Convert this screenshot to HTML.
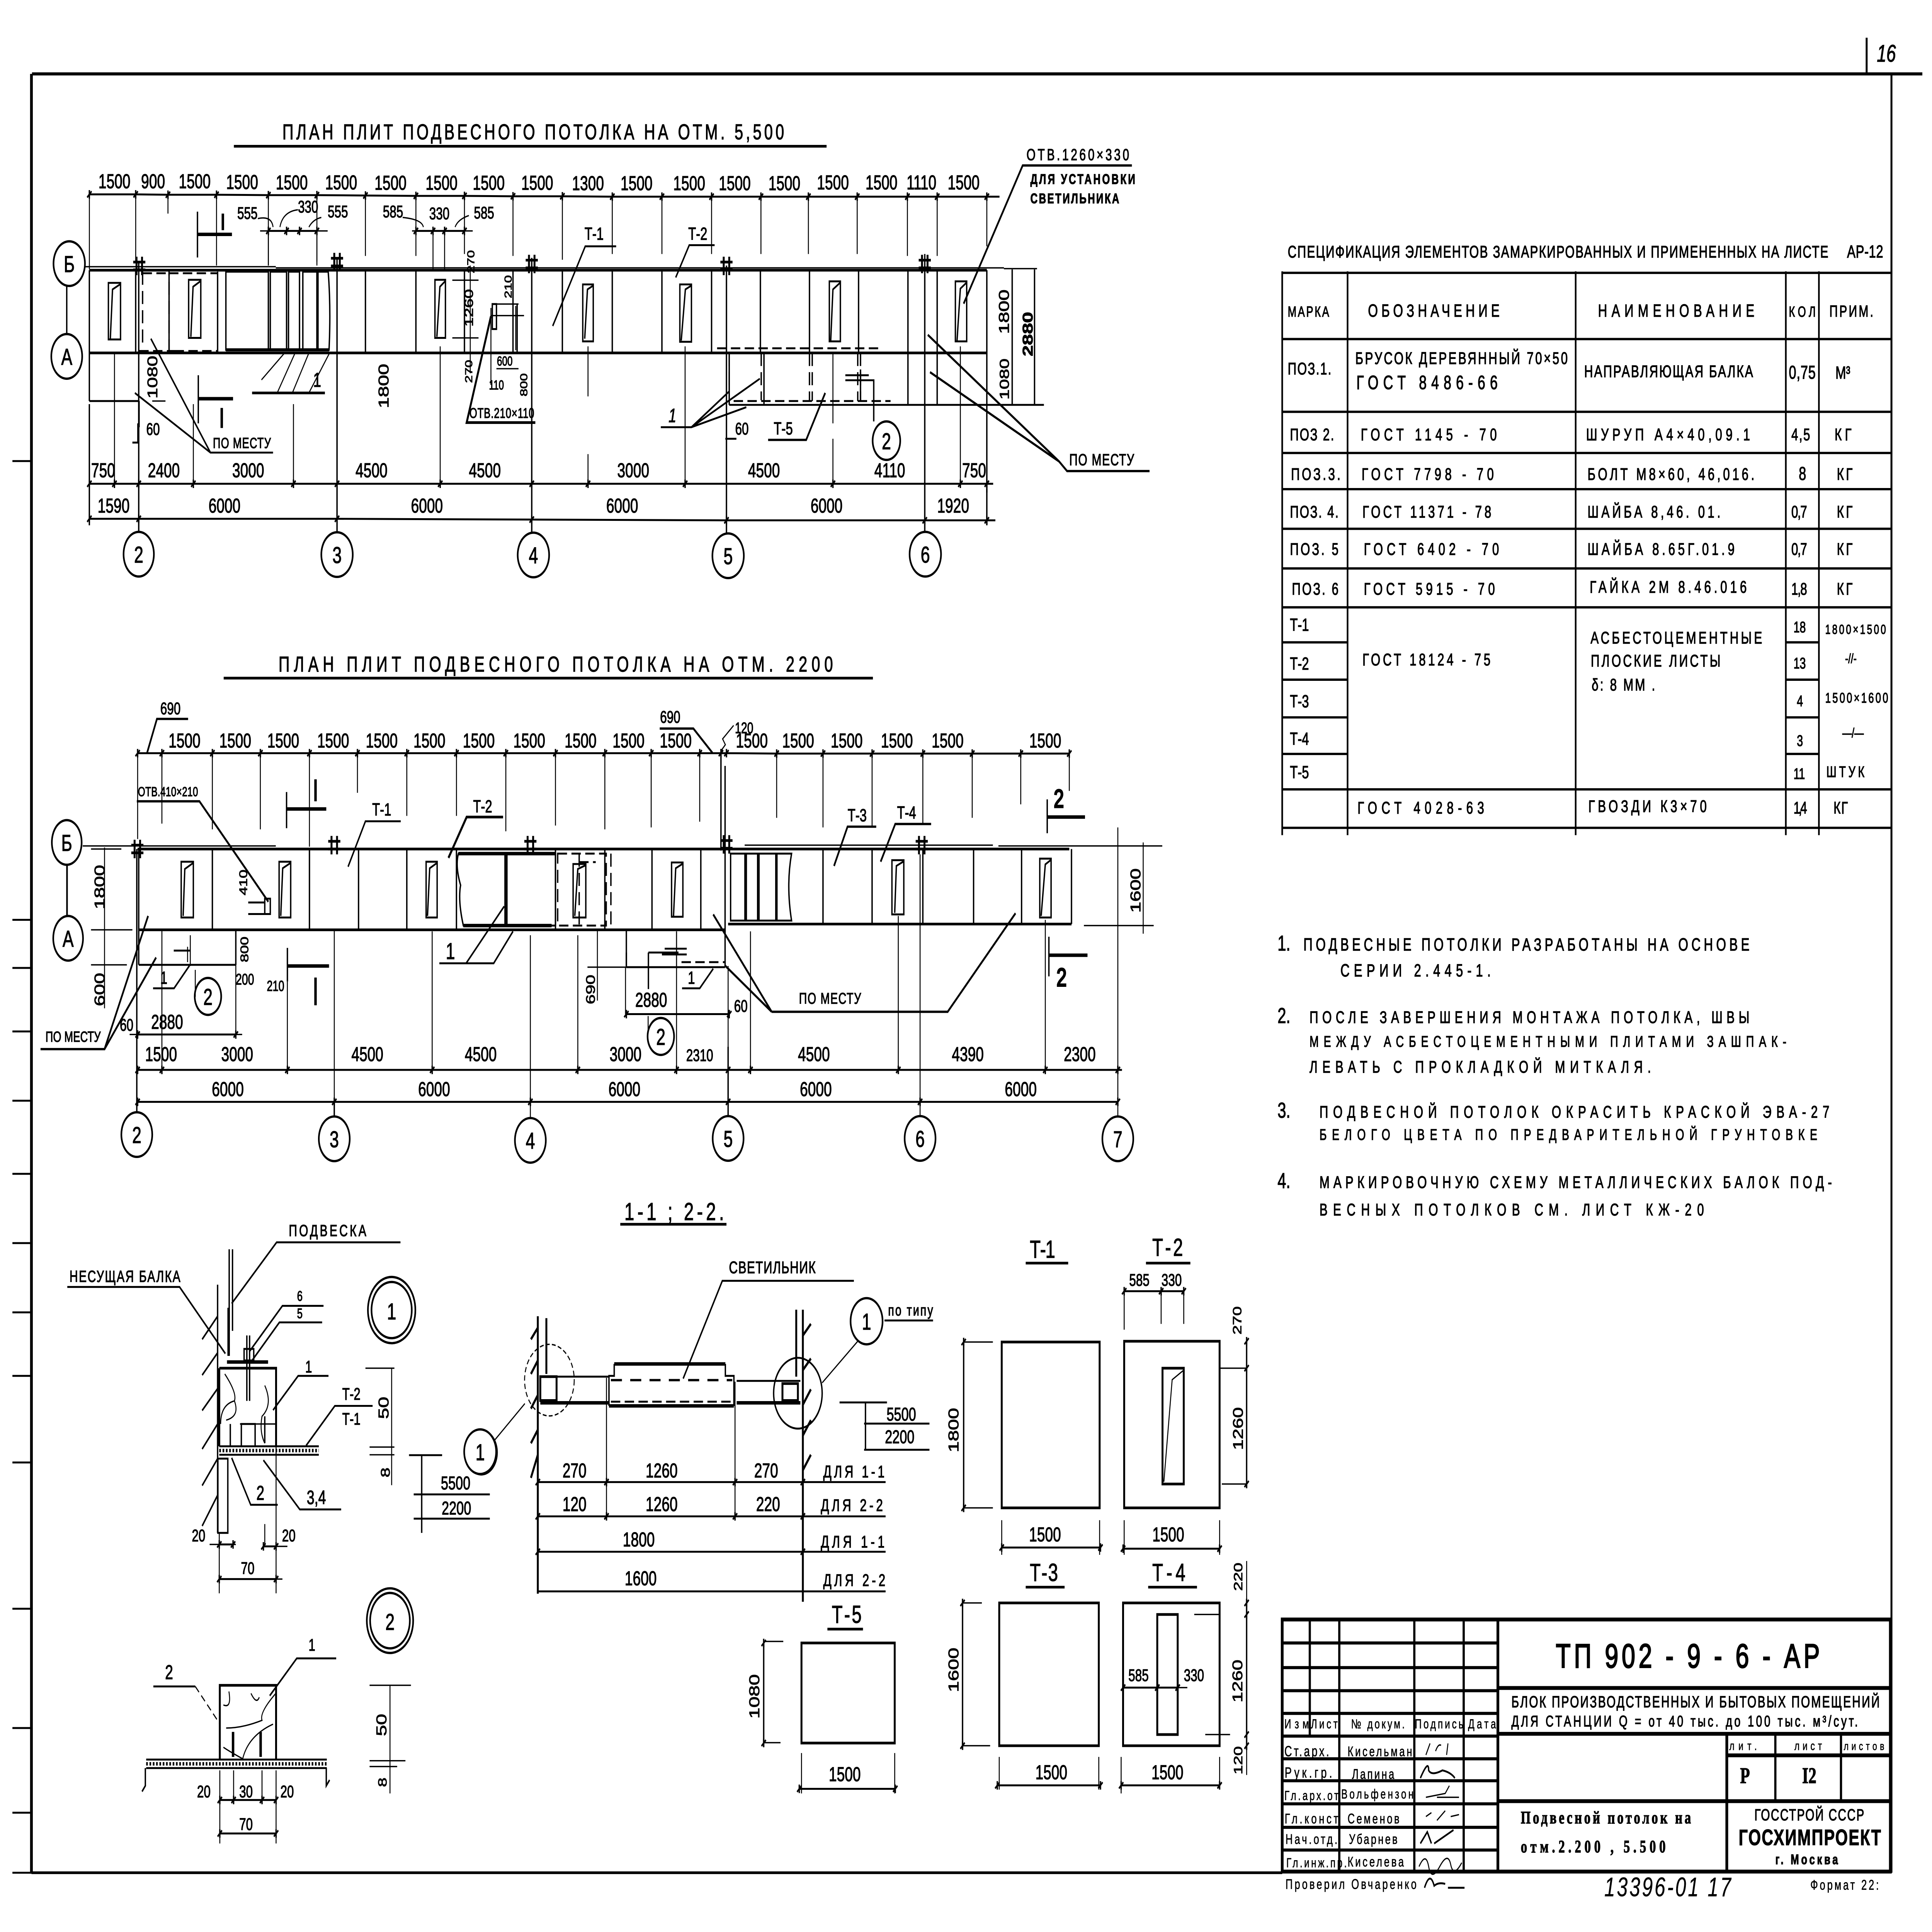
<!DOCTYPE html>
<html lang="ru"><head><meta charset="utf-8"><title>ТП 902-9-6 АР</title>
<style>
html,body{margin:0;padding:0;background:#fff;width:100%;height:100%;overflow:hidden}
svg{display:block;width:100vw;height:100vh}
text{font-family:"Liberation Sans","DejaVu Sans",sans-serif;fill:#000;stroke:#000;stroke-width:1.5}
.n text,text.n{text-anchor:middle;font-size:52px}
.l{fill:none;stroke:#000;stroke-width:5}
.k{fill:none;stroke:#000;stroke-width:9}
.f{fill:none;stroke:#000;stroke-width:3.5}
.d{fill:none;stroke:#000;stroke-width:5;stroke-dasharray:34 16}
.dl{fill:none;stroke:#000;stroke-width:5;marker-start:url(#t);marker-mid:url(#t);marker-end:url(#t)}
.c text{text-anchor:middle;font-size:60px}
.c ellipse,.c circle{fill:#fff;stroke:#000;stroke-width:6}
.s text{font-size:44px}
.m text{font-size:40px;font-family:"Liberation Sans",sans-serif;stroke-width:.8}
.b text{font-size:46px}
</style></head><body>
<svg xmlns="http://www.w3.org/2000/svg" viewBox="0 0 7005 5020" preserveAspectRatio="none">
<defs>
<marker id="t" markerUnits="userSpaceOnUse" markerWidth="30" markerHeight="30" refX="15" refY="15" orient="0" overflow="visible"><path d="M7 23L23 7M15 4V26" stroke="#000" stroke-width="5" fill="none"/></marker>
<g id="h"><path d="M-10 -38V10M10 -38V10M-22 -24H22M-22 -4H22" fill="none" stroke="#000" stroke-width="7"/></g>
</defs>
<rect width="7005" height="5020" fill="#fff"/>

<!-- frame -->
<path d="M116 192H6970" style="stroke:#000;stroke-width:8;fill:none"/>
<path d="M114 192V4866" style="stroke:#000;stroke-width:10;fill:none"/>
<path d="M6858 192V4866" style="stroke:#000;stroke-width:7;fill:none"/>
<path d="M114 4866H4649" style="stroke:#000;stroke-width:7;fill:none"/>
<path d="M6768 98V192" style="stroke:#000;stroke-width:7;fill:none"/>
<text x="6805" y="160" font-size="62" font-style="italic">16</text>
<path class="l" d="M45 1198H114M45 2390H114M45 2515H114M45 2680H114M45 2860H114M45 3050H114M45 3230H114M45 3410H114M45 3575H114M45 3800H114M45 4180H114M45 4490H114M45 4710H114M45 4866H114"/>

<!-- ============== PLAN 1 ============== -->
<text x="1024" y="362" font-size="56" textLength="1819">ПЛАН  ПЛИТ  ПОДВЕСНОГО  ПОТОЛКА  НА  ОТМ.  5,500</text>
<path class="l" style="stroke-width:7" d="M848 380H2997"/>
<polyline class="dl" points="324,505 492,505 609,506 785,506 973,507 1149,507 1325,508 1508,509 1684,509 1860,510 2039,510 2220,511 2400,511 2580,511 2759,511 2931,511 3108,511 3290,511 3398,511 3578,511"/>
<path class="l" d="M3578 511H3624"/>
<g class="n">
<text x="415" y="489">1500</text><text x="555" y="489">900</text><text x="706" y="489">1500</text><text x="878" y="491">1500</text><text x="1058" y="492">1500</text><text x="1237" y="492">1500</text><text x="1416" y="493">1500</text><text x="1601" y="493">1500</text><text x="1772" y="493">1500</text><text x="1948" y="493">1500</text><text x="2132" y="494">1300</text><text x="2308" y="494">1500</text><text x="2499" y="494">1500</text><text x="2664" y="494">1500</text><text x="2844" y="494">1500</text><text x="3020" y="492">1500</text><text x="3196" y="492">1500</text><text x="3341" y="492">1110</text><text x="3494" y="492">1500</text>
</g>
<!-- extension lines -->
<path class="f" d="M324 505V700M492 505V680M609 505V555M785 505V690M973 505V690M1149 505V680M1325 508V665M1508 509V665M1684 509V660M1860 510V665M2039 510V675M2220 511V660M2400 511V660M2580 511V660M2759 511V660M2931 511V660M3108 511V660M3290 511V665M3398 511V665M3578 511V640"/>
<!-- beams -->
<path class="l" style="stroke-width:7" d="M324 702H3578"/>
<path class="f" d="M310 693H1000M1000 696H3640M3640 698H3760"/>
<path class="l" style="stroke-width:7" d="M324 917H3578"/>
<path class="l" d="M324 702V1042M324 1042H503M2644 1052H3578M3578 702V1052M3670 700V1052M3751 700V1052M3560 1052H3785"/>
<!-- slab verticals -->
<path class="l" d="M492 702V917M613 702V912M1325 702V917M1508 702V917M1684 702V917M1860 702V917M2039 702V917M2220 702V917M2400 702V917M2580 702V917M2757 702V917M2935 702V917M3113 702V917M3292 702V1052M3398 702V1052"/>
<!-- axes -->
<path class="l" d="M503 680V1400M1222 670V1395M1928 670V1395M2634 690V1400M3353 660V1395"/>
<path class="f" d="M415 917V1257M701 1050V1257M1064 1050V1257M1596 900V1257M2132 900V1030M2132 1180V1257M2484 900V1257M3020 1140V1257M3020 920V1100M3482 900V1260"/>
<use href="#h" x="505" y="705"/><use href="#h" x="1222" y="695"/><use href="#h" x="1928" y="700"/><use href="#h" x="2634" y="705"/><use href="#h" x="3353" y="700"/>
<!-- openings -->
<path class="l" d="M393 735H437V882H393ZM437 738L408 752L400 880"/>
<path class="l" d="M684 727H728V878H684ZM728 730L700 745L692 875"/>
<path class="l" d="M1577 727H1615V878H1577ZM1615 730L1595 745L1584 875"/>
<path class="l" d="M2113 739H2151V887H2113ZM2151 742L2130 752L2120 880"/>
<path class="l" d="M2465 739H2507V888H2465ZM2507 742L2485 752L2470 885"/>
<path class="l" d="M3007 731H3047V887H3007ZM3047 734L3020 752L3012 885"/>
<path class="l" d="M3464 731H3505V887H3464ZM3505 734L3482 750L3470 885"/>
<!-- dashed zones -->
<path class="d" d="M517 710H613M517 706V905M613 710H789V912H613ZM789 706V912M505 912H640"/>
<path class="l" d="M819 706H973V909H819ZM980 706H1039V909H980ZM1046 706H1086V909H1046ZM1098 706H1149V909H1098ZM1153 706H1190Q1200 800 1193 909H1153Z"/>
<path class="l" style="stroke-width:8" d="M819 909H1193"/>
<path class="f" d="M948 987L1032 917M1005 1021L1070 917M1060 1021L1120 917M1120 1021L1195 917"/>
<path class="l" style="stroke-width:7" d="M914 1021H1178"/>
<text class="n" x="1150" y="1005">1</text>
<path class="d" d="M2600 905H3190"/>
<path class="d" d="M2660 1042H3229M2644 917V1040M2760 917V1040M2935 917V1042M2945 917V1042M3110 917V1042M3120 917V1042"/>
<path class="l" d="M2644 917V1052M2770 917V1052"/>
<!-- section marks -->
<path class="l" d="M716 550V669M719 975V1100"/>
<path class="k" d="M716 609H841M719 1036H845"/>
<path class="k" d="M808 555V598M804 1060V1112"/>
<!-- small dims -->
<polyline class="dl" points="973,600 1039,600 1086,600 1149,600"/>
<path class="f" d="M943 600H1188M973 600V690M1149 600V690"/>
<text x="897" y="569" font-size="44" text-anchor="middle">555</text><text x="1117" y="552" font-size="44" text-anchor="middle">330</text><text x="1225" y="565" font-size="44" text-anchor="middle">555</text>
<text x="1425" y="565" font-size="44" text-anchor="middle">585</text><text x="1593" y="570" font-size="44" text-anchor="middle">330</text><text x="1755" y="568" font-size="44" text-anchor="middle">585</text>
<path class="f" d="M935 568Q985 560 990 590M1015 590Q1025 550 1080 545M1120 590Q1135 570 1165 565M1460 565Q1530 570 1535 590M1650 590Q1660 570 1700 560"/>
<polyline class="dl" points="1508,600 1570,600 1612,600 1684,600"/>
<path class="f" d="M1494 600H1714M1570 600V700M1612 600V700"/>
<!-- 270/1260/210 etc -->
<text font-size="36" text-anchor="middle" x="1720" y="680" transform="rotate(-90 1720 680)">270</text>
<text font-size="44" text-anchor="middle" x="1715" y="800" transform="rotate(-90 1715 800)">1260</text>
<text font-size="36" text-anchor="middle" x="1712" y="965" transform="rotate(-90 1712 965)">270</text>
<text font-size="36" text-anchor="middle" x="1855" y="745" transform="rotate(-90 1855 745)">210</text>
<text font-size="36" text-anchor="middle" x="1912" y="1000" transform="rotate(-90 1912 1000)">800</text>
<text font-size="34" text-anchor="middle" x="1830" y="950">600</text>
<text font-size="34" text-anchor="middle" x="1800" y="1012">110</text>
<path class="f" d="M1640 728H1735M1640 878H1735M1705 690V970M1780 820H1900M1780 800V1000M1800 958H1880M1785 790H1880M1870 795V910"/>
<path class="l" d="M1785 790H1800V855H1785ZM1875 790V915"/>
<!-- labels plan 1 -->
<text x="2154" y="623" font-size="46" text-anchor="middle">Т-1</text>
<path class="l" d="M2234 640H2122L2004 847"/>
<text x="2530" y="623" font-size="46" text-anchor="middle">Т-2</text>
<path class="l" d="M2591 637H2499L2450 721"/>
<text x="1702" y="1086" font-size="36" textLength="235">ОТВ.210×110</text>
<path class="l" style="stroke-width:7" d="M1941 1098H1692L1780 822"/>
<text x="772" y="1164" font-size="38" textLength="210">ПО МЕСТУ</text>
<path class="l" d="M990 1176H763L489 1021M763 1176L547 880"/>
<text class="n" x="570" y="980" transform="rotate(-90 570 980)" style="font-size:50px">1080</text>
<text class="n" x="1409" y="1003" transform="rotate(-90 1409 1003)">1800</text>
<text class="n" x="555" y="1130" style="font-size:44px">60</text>
<path class="l" d="M480 1150H505M500 1100V1150"/>
<path class="f" d="M552 1042H600M505 1042V1110"/>
<!-- right dims -->
<text class="n" x="3658" y="810" transform="rotate(-90 3658 810)">1800</text>
<text class="n" x="3658" y="985" transform="rotate(-90 3658 985)" style="font-size:48px">1080</text>
<text class="n" x="3744" y="868" transform="rotate(-90 3744 868)" style="font-weight:bold">2880</text>
<text x="3722" y="416" font-size="42" textLength="372">ОТВ.1260×330</text>
<path class="l" style="stroke-width:6" d="M4104 430H3708L3494 789"/>
<text x="3736" y="478" font-size="36" textLength="380" style="font-weight:bold">ДЛЯ УСТАНОВКИ</text>
<text x="3736" y="528" font-size="36" textLength="322" style="font-weight:bold">СВЕТИЛЬНИКА</text>
<text x="3877" y="1209" font-size="42" textLength="235">ПО МЕСТУ</text>
<path class="l" style="stroke-width:6" d="M4168 1224H3869L3840 1199L3364 870M3840 1199L3372 967"/>
<!-- Т-5 / 2 / 1 -->
<text x="2840" y="1129" font-size="46" text-anchor="middle">Т-5</text>
<path class="l" style="stroke-width:6" d="M2785 1143H2923L2992 1021"/>
<g class="c"><circle cx="3214" cy="1145" r="50"/><text x="3214" y="1167">2</text></g>
<path class="l" d="M3168 1095V988H3065M3120 960V1040M3065 975H3150"/>
<text x="2438" y="1097" font-size="50" text-anchor="middle" font-style="italic">1</text>
<path class="l" d="M2396 1110H2507L2644 1017M2507 1110L2706 1058M2507 1110L2755 984"/>
<text class="n" x="2690" y="1129" style="font-size:44px">60</text>
<path class="l" d="M2630 1140H2670"/>
<!-- lower dims plan 1 -->
<polyline class="dl" points="324,1257 415,1257 503,1257 701,1257 1064,1257 1222,1257 1596,1257 1928,1257 2132,1257 2484,1257 3020,1257 3482,1257 3578,1257"/>
<path class="l" d="M3578 1257H3601M3578 1052V1280"/>
<g class="n">
<text x="374" y="1240">750</text><text x="594" y="1240">2400</text><text x="900" y="1240">3000</text><text x="1347" y="1240">4500</text><text x="1758" y="1240">4500</text><text x="2296" y="1240">3000</text><text x="2770" y="1240">4500</text><text x="3226" y="1240">4110</text><text x="3532" y="1240">750</text>
</g>
<polyline class="dl" points="324,1348 503,1348 1222,1348 1928,1350 2634,1352 3353,1352 3578,1352"/>
<path class="l" d="M3578 1352H3609M324 1050V1365M3578 1270V1365"/>
<g class="n">
<text x="412" y="1332">1590</text><text x="814" y="1332">6000</text><text x="1548" y="1332">6000</text><text x="2256" y="1332">6000</text><text x="2997" y="1332">6000</text><text x="3456" y="1332">1920</text>
</g>
<g class="c">
<ellipse cx="503" cy="1440" rx="55" ry="58"/><text x="503" y="1462">2</text>
<ellipse cx="1222" cy="1441" rx="57" ry="58"/><text x="1222" y="1463">3</text>
<ellipse cx="1934" cy="1442" rx="57" ry="58"/><text x="1934" y="1464">4</text>
<ellipse cx="2640" cy="1444" rx="57" ry="58"/><text x="2640" y="1466">5</text>
<ellipse cx="3355" cy="1440" rx="57" ry="58"/><text x="3355" y="1462">6</text>
<path class="l" d="M242 742V870" style="fill:none;stroke:#000;stroke-width:5"/>
<ellipse cx="251" cy="685" rx="57" ry="58"/><text x="251" y="707">Б</text>
<ellipse cx="242" cy="926" rx="56" ry="58"/><text x="242" y="948">А</text>
</g>

<!-- ============== PLAN 2 ============== -->
<text x="1010" y="1745" font-size="56" textLength="2010">ПЛАН  ПЛИТ  ПОДВЕСНОГО  ПОТОЛКА  НА  ОТМ.  2200</text>
<path class="l" style="stroke-width:7" d="M811 1762H3165"/>
<polyline class="dl" points="499,1957 587,1957 770,1957 944,1957 1122,1957 1296,1957 1475,1957 1655,1957 1834,1957 2014,1957 2193,1957 2361,1957 2537,1957 2614,1957 2634,1957 2816,1958 2984,1958 3162,1958 3346,1958 3525,1958 3701,1958 3877,1958"/>
<g class="n">
<text x="669" y="1942">1500</text><text x="853" y="1942">1500</text><text x="1027" y="1942">1500</text><text x="1208" y="1942">1500</text><text x="1384" y="1942">1500</text><text x="1557" y="1942">1500</text><text x="1736" y="1942">1500</text><text x="1919" y="1942">1500</text><text x="2105" y="1942">1500</text><text x="2279" y="1942">1500</text><text x="2450" y="1942">1500</text><text x="2726" y="1942">1500</text><text x="2894" y="1942">1500</text><text x="3070" y="1942">1500</text><text x="3252" y="1942">1500</text><text x="3436" y="1942">1500</text><text x="3790" y="1942">1500</text>
</g>
<path class="f" d="M499 1957V2180M587 1957V2140M770 1957V2155M944 1957V2155M1122 1957V2200M1296 1957V2060M1475 1957V2120M1655 1957V2120M1834 1957V2160M2014 1957V2145M2193 1957V2155M2361 1957V2150M2537 1957V2135M2816 1958V2125M2984 1958V2150M3162 1958V2150M3346 1958V2140M3525 1958V2125M3701 1958V2090M3877 1958V2055"/>
<path class="l" d="M2614 1957V2210"/>
<!-- beams -->
<path class="l" style="stroke-width:7" d="M499 2206H3877"/>
<path class="f" d="M300 2198H1000M2700 2196H3600M3620 2198H4214"/>
<path class="l" style="stroke-width:7" d="M503 2416H2629M2640 2401H3885"/>
<path class="l" d="M3885 2206V2401M503 2206V2507M503 2507H855M855 2416V2507M2271 2416V2513M2271 2513H2629M2629 1990V2513"/>
<path class="l" d="M770 2206V2416M1122 2206V2416M1300 2206V2416M1475 2206V2416M1655 2206V2416M2014 2206V2416M2193 2206V2416M2364 2206V2416M2541 2206V2416M2984 2206V2401M3162 2206V2401M3530 2206V2401M3704 2206V2401M3346 2206V2401"/>
<!-- axes -->
<path class="f" d="M496 2206V2890M1212 2416V2900M1923 2430V2905M2640 2510V2900M3336 2220V2900M4053 2150V2900"/>
<path class="l" d="M496 2206V2890M1212 2860V2900M2640 2720V2900"/>
<path class="f" d="M587 2416V2780M1042 2550V2780M1567 2420V2780M2095 2430V2780M2453 2420V2780M2721 2420V2790M3257 2380V2780M3790 2390V2780"/>
<use href="#h" x="498" y="2220"/><use href="#h" x="1212" y="2210"/><use href="#h" x="1923" y="2210"/><use href="#h" x="2634" y="2208"/><use href="#h" x="3342" y="2210"/>
<!-- openings -->
<path class="l" d="M657 2239H701V2384H657ZM701 2242L670 2258L664 2380"/>
<path class="l" d="M1012 2239H1054V2384H1012ZM1054 2242L1025 2256L1018 2380"/>
<path class="l" d="M1545 2239H1585V2384H1545ZM1585 2242L1558 2256L1550 2380"/>
<path class="l" d="M2078 2245H2124V2384H2078ZM2124 2248L2095 2258L2084 2380"/>
<path class="l" d="M2435 2241H2476V2382H2435ZM2476 2244L2450 2256L2442 2380"/>
<path class="l" d="M3234 2235H3277V2376H3234ZM3277 2238L3250 2250L3244 2372"/>
<path class="l" d="M3770 2231H3811V2384H3770ZM3811 2234L3790 2246L3775 2380"/>
<!-- hollow regions -->
<path class="l" d="M1662 2218H1831V2405H1680Q1660 2340 1670 2300Q1650 2250 1662 2218ZM2014 2218V2405H1838V2218H2014"/>
<path class="k" d="M1662 2218H2014M1834 2218V2405M1680 2405H2000"/>
<path class="d" d="M2022 2218H2198V2405H2022ZM2100 2218V2405M2100 2240H2160M2215 2218V2410"/>
<path class="l" d="M2649 2218H2701V2392H2649ZM2706 2218H2747V2392H2706ZM2752 2218H2813V2392H2752ZM2817 2218H2870Q2850 2300 2870 2392H2817Z"/>
<!-- small openings -->
<path class="l" d="M960 2335H980V2375H960ZM900 2345H960M900 2375H960"/>
<path class="d" d="M600 2507H855M2271 2475V2513M2471 2500H2629"/>
<path class="l" d="M2351 2475H2460M2351 2475V2570M630 2470H690M2410 2465H2490M2400 2480H2490"/>
<path class="f" d="M690 2430V2510M2453 2420V2510M680 2460V2500"/>
<!-- section marks -->
<path class="l" d="M1039 2058V2152M1042 2463V2550M3797 2077V2165M3803 2434V2537"/>
<path class="k" d="M1039 2102H1183M1042 2510H1193M3797 2123H3934M3803 2482H3943"/>
<path class="k" d="M1144 2025V2082M1144 2540V2612"/>
<text x="3839" y="2098" font-size="66" text-anchor="middle" style="stroke-width:4">2</text>
<text x="3849" y="2562" font-size="66" text-anchor="middle" style="stroke-width:4">2</text>
<!-- labels -->
<text x="618" y="1856" font-size="44" text-anchor="middle">690</text>
<path class="l" style="stroke-width:6" d="M682 1868H569L533 1957"/>
<text x="2430" y="1878" font-size="44" text-anchor="middle">690</text>
<path class="l" style="stroke-width:6" d="M2392 1893H2514L2583 1956"/>
<text x="2698" y="1905" font-size="40" text-anchor="middle">120</text>
<path class="f" d="M2660 1885L2620 1920L2630 1935L2615 1950"/>
<text x="500" y="2069" font-size="34" textLength="218">ОТВ.410×210</text>
<path class="l" style="stroke-width:6" d="M496 2082H723L973 2343"/>
<text x="1384" y="2119" font-size="46" text-anchor="middle">Т-1</text>
<path class="l" d="M1453 2134H1325L1262 2252"/>
<text x="1750" y="2111" font-size="46" text-anchor="middle">Т-2</text>
<path class="l" style="stroke-width:7" d="M1824 2123H1692L1626 2229"/>
<text x="3108" y="2134" font-size="46" text-anchor="middle">Т-3</text>
<path class="l" style="stroke-width:6" d="M3177 2148H3073L3024 2250"/>
<text x="3287" y="2127" font-size="46" text-anchor="middle">Т-4</text>
<path class="l" style="stroke-width:6" d="M3376 2141H3246L3193 2239"/>
<text class="n" x="379" y="2305" transform="rotate(-90 379 2305)">1800</text>
<text class="n" x="379" y="2571" transform="rotate(-90 379 2571)">600</text>
<path class="f" d="M379 2202V2620M330 2206H440M330 2416H480M330 2507H460"/>
<text x="1633" y="2492" font-size="60" text-anchor="middle">1</text>
<path class="l" d="M1593 2503H1790L1860 2420M1690 2503L1828 2355"/>
<text x="594" y="2556" font-size="46" text-anchor="middle">1</text>
<path class="l" d="M555 2568H631L687 2509"/>
<g class="c"><circle cx="754" cy="2589" r="48"/><text x="754" y="2611">2</text>
<circle cx="2396" cy="2693" r="48"/><text x="2396" y="2715">2</text></g>
<path class="f" d="M708 2520V2590M855 2507V2690M2268 2513V2635M2350 2640V2680"/>
<text class="n" x="606" y="2673">2880</text>
<polyline class="dl" points="499,2688 855,2688"/>
<path class="f" d="M470 2688H878"/>
<text class="n" x="459" y="2678" style="font-size:44px">60</text>
<text x="888" y="2558" font-size="40" text-anchor="middle">200</text>
<text x="900" y="2467" font-size="40" text-anchor="middle" transform="rotate(-90 900 2467)">800</text>
<text x="896" y="2293" font-size="40" text-anchor="middle" transform="rotate(-90 896 2293)">410</text>
<text x="999" y="2575" font-size="38" text-anchor="middle">210</text>
<text x="165" y="2707" font-size="38" textLength="200">ПО МЕСТУ</text>
<path class="l" style="stroke-width:6" d="M147 2726H379L537 2380M379 2726L566 2488"/>
<text x="2897" y="2608" font-size="40" textLength="225">ПО МЕСТУ</text>
<path class="l" style="stroke-width:6" d="M2798 2629H3436L3682 2373M2798 2629L2586 2376M2798 2629L2629 2509"/>
<text x="2507" y="2556" font-size="46" text-anchor="middle">1</text>
<path class="l" d="M2473 2568H2537L2586 2517"/>
<text class="n" x="2361" y="2616">2880</text>
<polyline class="dl" points="2271,2635 2644,2635"/>
<text class="n" x="2686" y="2629" style="font-size:44px">60</text>
<text x="2157" y="2571" font-size="46" text-anchor="middle" transform="rotate(-90 2157 2571)">690</text>
<path class="f" d="M2166 2416V2600M2130 2513H2271"/>
<text class="n" x="4135" y="2314" transform="rotate(-90 4135 2314)">1600</text>
<path class="f" d="M4145 2189V2426M3930 2405H4183M3980 2198H4214"/>
<!-- lower dims plan 2 -->
<polyline class="dl" points="499,2780 587,2780 1042,2780 1567,2780 2095,2780 2453,2780 2640,2780 2721,2780 3257,2780 3790,2780 4053,2780"/>
<path class="l" d="M4053 2780H4068"/>
<g class="n">
<text x="584" y="2757">1500</text><text x="860" y="2757">3000</text><text x="1332" y="2757">4500</text><text x="1743" y="2757">4500</text><text x="2268" y="2757">3000</text><text x="2537" y="2757" style="font-size:44px">2310</text><text x="2951" y="2757">4500</text><text x="3509" y="2757">4390</text><text x="3915" y="2757">2300</text>
</g>
<polyline class="dl" points="499,2863 1212,2863 1923,2863 2640,2863 3336,2863 4053,2863"/>
<g class="n">
<text x="826" y="2848">6000</text><text x="1574" y="2848">6000</text><text x="2264" y="2848">6000</text><text x="2958" y="2848">6000</text><text x="3701" y="2848">6000</text>
</g>
<g class="c">
<ellipse cx="496" cy="2948" rx="56" ry="58"/><text x="496" y="2970">2</text>
<ellipse cx="1212" cy="2959" rx="56" ry="58"/><text x="1212" y="2981">3</text>
<ellipse cx="1923" cy="2963" rx="56" ry="58"/><text x="1923" y="2985">4</text>
<ellipse cx="2640" cy="2958" rx="56" ry="58"/><text x="2640" y="2980">5</text>
<ellipse cx="3336" cy="2958" rx="56" ry="58"/><text x="3336" y="2980">6</text>
<ellipse cx="4053" cy="2959" rx="56" ry="58"/><text x="4053" y="2981">7</text>
<path d="M243 2240V2390" style="fill:none;stroke:#000;stroke-width:6"/>
<ellipse cx="242" cy="2189" rx="54" ry="58"/><text x="242" y="2211">Б</text>
<ellipse cx="247" cy="2438" rx="54" ry="58"/><text x="247" y="2460">А</text>
</g>

<!-- ============== TABLE ============== -->
<text x="4669" y="669" font-size="44" textLength="1960">СПЕЦИФИКАЦИЯ ЭЛЕМЕНТОВ ЗАМАРКИРОВАННЫХ И ПРИМЕНЕННЫХ НА ЛИСТЕ</text>
<text x="6697" y="669" font-size="46" textLength="131">АР-12</text>
<path class="l" style="stroke-width:6" d="M4649 709H6858M4649 881H6858M4649 1070H6858M4649 1177H6858M4649 1271H6858M4649 1374H6858M4649 1477H6858M4649 1578H6858M4649 1669H4886M6475 1669H6595M4649 1766H4886M6475 1766H6595M4649 1864H4886M6475 1864H6595M4649 1959H4886M6475 1959H6595M4649 2051H6858M4649 2151H6858M4649 705V2170M4886 705V2170M5713 705V2170M6475 705V2170M6595 705V2170"/>
<g class="b">
<text x="4669" y="823" textLength="150" style="font-size:38px">МАРКА</text>
<text x="4960" y="823" textLength="477">ОБОЗНАЧЕНИЕ</text>
<text x="5794" y="823" textLength="567">НАИМЕНОВАНИЕ</text>
<text x="6486" y="823" textLength="97" style="font-size:38px">КОЛ</text>
<text x="6633" y="823" textLength="159" style="font-size:42px">ПРИМ.</text>
</g>
<g class="s">
<text x="4669" y="973" textLength="158">ПОЗ.1.</text>
<text x="4914" y="946" textLength="770">БРУСОК ДЕРЕВЯННЫЙ 70×50</text>
<text x="4918" y="1011" textLength="512" style="font-size:50px">ГОСТ 8486-66</text>
<text x="5744" y="980" textLength="612">НАПРАВЛЯЮЩАЯ БАЛКА</text>
<text x="6486" y="984" textLength="97" style="font-size:48px">0,75</text>
<text x="6655" y="984" style="font-size:46px">М³</text>

<text x="4677" y="1144" textLength="160">ПОЗ 2.</text>
<text x="4934" y="1144" textLength="493">ГОСТ  1145 - 70</text>
<text x="5751" y="1144" textLength="594">ШУРУП  А4×40,09.1</text>
<text x="6495" y="1144" textLength="68">4,5</text>
<text x="6652" y="1144" textLength="61">КГ</text>

<text x="4681" y="1247" textLength="179">ПОЗ.3.</text>
<text x="4937" y="1247" textLength="479">ГОСТ  7798 - 70</text>
<text x="5756" y="1247" textLength="605">БОЛТ  М8×60, 46,016.</text>
<text x="6522" y="1247" style="font-size:48px">8</text>
<text x="6660" y="1247" textLength="57">КГ</text>

<text x="4677" y="1345" textLength="176">ПОЗ. 4.</text>
<text x="4940" y="1345" textLength="467">ГОСТ  11371 - 78</text>
<text x="5756" y="1345" textLength="482">ШАЙБА  8,46. 01.</text>
<text x="6495" y="1345" textLength="57">0,7</text>
<text x="6660" y="1345" textLength="57">КГ</text>

<text x="4677" y="1442" textLength="176">ПОЗ. 5</text>
<text x="4945" y="1442" textLength="490">ГОСТ  6402 - 70</text>
<text x="5756" y="1442" textLength="533">ШАЙБА  8.65Г.01.9</text>
<text x="6495" y="1442" textLength="57">0,7</text>
<text x="6660" y="1442" textLength="57">КГ</text>

<text x="4684" y="1545" textLength="169">ПОЗ. 6</text>
<text x="4945" y="1545" textLength="475">ГОСТ  5915 - 70</text>
<text x="5764" y="1540" textLength="569">ГАЙКА  2М 8.46.016</text>
<text x="6495" y="1545" textLength="57">1,8</text>
<text x="6660" y="1545" textLength="57">КГ</text>

<text x="4677" y="1639" style="font-size:46px">Т-1</text>
<text x="4677" y="1740" style="font-size:46px">Т-2</text>
<text x="4677" y="1838" style="font-size:46px">Т-3</text>
<text x="4677" y="1935" style="font-size:46px">Т-4</text>
<text x="4677" y="2022" style="font-size:46px">Т-5</text>
<text x="4940" y="1729" textLength="464">ГОСТ  18124 - 75</text>
<text x="5767" y="1672" textLength="622">АСБЕСТОЦЕМЕНТНЫЕ</text>
<text x="5768" y="1732" textLength="470">ПЛОСКИЕ ЛИСТЫ</text>
<text x="5771" y="1794" textLength="230">δ: 8 ММ .</text>
<text x="6503" y="1643" style="font-size:40px">18</text>
<text x="6503" y="1737" style="font-size:40px">13</text>
<text x="6515" y="1835" style="font-size:40px">4</text>
<text x="6515" y="1938" style="font-size:40px">3</text>
<text x="6503" y="2024" style="font-size:40px">11</text>
<text x="6618" y="1647" textLength="220" style="font-size:34px">1800×1500</text>
<text x="6690" y="1723" style="font-size:34px">-//-</text>
<text x="6618" y="1826" textLength="228" style="font-size:36px">1500×1600</text>
<text x="6680" y="1916" style="font-size:34px">—/—</text>
<text x="6622" y="2019" textLength="138" style="font-size:40px">ШТУК</text>
<text x="4922" y="2114" textLength="459">ГОСТ  4028-63</text>
<text x="5759" y="2110" textLength="429">ГВОЗДИ  К3×70</text>
<text x="6503" y="2114" textLength="49">1,4</text>
<text x="6648" y="2114" textLength="52">КГ</text>
</g>

<!-- ============== NOTES ============== -->
<text x="4632" y="2470" font-size="56">1.</text>
<text x="4726" y="2470" font-size="46" textLength="1617">ПОДВЕСНЫЕ ПОТОЛКИ РАЗРАБОТАНЫ НА ОСНОВЕ</text>
<text x="4860" y="2537" font-size="46" textLength="545">СЕРИИ  2.445-1.</text>
<text x="4632" y="2658" font-size="56">2.</text>
<text x="4748" y="2658" font-size="44" textLength="1595">ПОСЛЕ ЗАВЕРШЕНИЯ МОНТАЖА ПОТОЛКА, ШВЫ</text>
<text x="4748" y="2720" font-size="40" textLength="1729">МЕЖДУ АСБЕСТОЦЕМЕНТНЫМИ ПЛИТАМИ ЗАШПАК-</text>
<text x="4748" y="2787" font-size="44" textLength="1238">ЛЕВАТЬ С ПРОКЛАДКОЙ МИТКАЛЯ.</text>
<text x="4632" y="2904" font-size="56">3.</text>
<text x="4784" y="2904" font-size="44" textLength="1849">ПОДВЕСНОЙ ПОТОЛОК ОКРАСИТЬ КРАСКОЙ ЭВА-27</text>
<text x="4784" y="2962" font-size="40" textLength="1805">БЕЛОГО ЦВЕТА ПО ПРЕДВАРИТЕЛЬНОЙ ГРУНТОВКЕ</text>
<text x="4632" y="3087" font-size="56">4.</text>
<text x="4784" y="3087" font-size="44" textLength="1858">МАРКИРОВОЧНУЮ СХЕМУ МЕТАЛЛИЧЕСКИХ БАЛОК ПОД-</text>
<text x="4784" y="3158" font-size="44" textLength="1394">ВЕСНЫХ ПОТОЛКОВ СМ. ЛИСТ КЖ-20</text>

<!-- ============== DETAIL 1 ============== -->
<text x="1047" y="3212" font-size="42" textLength="281">ПОДВЕСКА</text>
<path class="l" d="M1452 3228H1003L840 3387"/>
<text x="252" y="3331" font-size="42" textLength="402">НЕСУЩАЯ БАЛКА</text>
<path class="l" d="M244 3344H651L817 3517"/>
<path class="l" d="M789 3338V3983M733 3480L789 3420M733 3573L789 3515M733 3665L789 3608M733 3765L789 3700M733 3860L789 3790M733 3965L789 3885"/>
<path class="k" d="M829 3398V3523M823 3539H972"/>
<path class="l" d="M831 3246V3458M843 3246V3458M895 3470V3640M905 3470V3640M885 3505H920V3535H885Z"/>
<path class="l" style="stroke-width:7" d="M795 3555H1001V3758M795 3555V3758"/>
<path class="f" d="M815 3570Q860 3620 850 3640Q800 3650 800 3700M850 3640Q870 3680 820 3690M960 3600Q990 3650 950 3680Q940 3720 960 3750M870 3700H1000"/>
<path class="l" d="M875 3700H925V3758H875ZM835 3700V3758M960 3680V3750"/>
<path class="k" style="stroke-dasharray:6 6" d="M795 3769H1156"/>
<path class="l" d="M795 3758H1156M795 3780H1156M790 3790H826V3983H790Z"/>
<text x="1087" y="3380" font-size="36" text-anchor="middle">6</text>
<text x="1087" y="3425" font-size="36" text-anchor="middle">5</text>
<path class="l" d="M1173 3393H1024L904 3512M1168 3436H1013L915 3534"/>
<text x="1119" y="3566" font-size="44" text-anchor="middle">1</text>
<path class="l" d="M1191 3575H1081L990 3664"/>
<text x="1274" y="3637" font-size="44" text-anchor="middle">Т-2</text>
<text x="1274" y="3702" font-size="44" text-anchor="middle">Т-1</text>
<path class="l" d="M1351 3653H1214L1110 3756"/>
<text x="944" y="3897" font-size="52" text-anchor="middle">2</text>
<path class="l" d="M1007 3910H909L840 3788"/>
<text x="1147" y="3908" font-size="50" text-anchor="middle">3,4</text>
<path class="l" d="M1237 3922H1087L955 3794"/>
<g class="c"><circle cx="1420" cy="3404" r="86"/><circle cx="1420" cy="3404" r="73"/><text x="1420" y="3428">1</text>
<circle cx="1414" cy="4211" r="84"/><circle cx="1414" cy="4211" r="72"/><text x="1414" y="4235">2</text></g>
<text class="n" x="1409" y="3658" transform="rotate(-90 1409 3658)">50</text>
<text class="n" x="1413" y="3826" transform="rotate(-90 1413 3826)" style="font-size:46px">8</text>
<path class="f" d="M1420 3555V3859M1325 3555H1430M1340 3760H1430M1340 3780H1430"/>
<text class="n" x="1652" y="3870" style="font-size:48px">5500</text>
<text class="n" x="1655" y="3935" style="font-size:48px">2200</text>
<path class="l" d="M1500 3883H1776M1500 3946H1776M1529 3783V3983M1483 3781H1603"/>
<g class="c"><circle cx="1745" cy="3774" r="57"/><text x="1745" y="3796">1</text></g>
<text class="n" x="720" y="4005" style="font-size:44px">20</text>
<text class="n" x="1047" y="4005" style="font-size:44px">20</text>
<text class="n" x="898" y="4090" style="font-size:44px">70</text>
<polyline class="dl" points="795,4013 845,4013"/><polyline class="dl" points="955,4018 1001,4018"/>
<path class="f" d="M760 4013H855M955 4018H1042M960 3960V4018M1001 3760V4140"/>
<polyline class="dl" points="795,4103 1001,4103"/>
<path class="f" d="M795 3983V4140M1001 4103H1024"/>

<!-- ============== DETAIL 2 ============== -->
<text x="1131" y="4289" font-size="44" text-anchor="middle">1</text>
<path class="l" d="M1219 4309H1076L978 4406"/>
<text x="613" y="4363" font-size="52" text-anchor="middle">2</text>
<path class="l" d="M556 4382H708"/>
<path class="f" stroke-dasharray="20 12" d="M708 4382L795 4477"/>
<path class="l" style="stroke-width:7" d="M797 4572V4379H1001V4572"/>
<path class="f" d="M830 4395Q840 4440 810 4430M910 4400Q930 4430 940 4410M1000 4400Q940 4450 950 4470Q880 4490 820 4490M990 4480Q900 4510 880 4570Q830 4550 810 4540"/>
<path class="k" d="M845 4500V4565M945 4500V4565"/>
<path class="k" style="stroke-dasharray:6 6" d="M530 4583H1185"/>
<path class="l" d="M530 4572H1185M530 4594H1185M527 4594V4640L515 4655M1183 4594V4640L1195 4625"/>
<text class="n" x="1401" y="4482" transform="rotate(-90 1401 4482)">50</text>
<text class="n" x="1402" y="4631" transform="rotate(-90 1402 4631)" style="font-size:44px">8</text>
<path class="f" d="M1414 4379V4660M1340 4379H1490M1340 4575H1470M1340 4590H1440"/>
<text class="n" x="739" y="4670" style="font-size:44px">20</text>
<text class="n" x="892" y="4670" style="font-size:44px">30</text>
<text class="n" x="1041" y="4670" style="font-size:44px">20</text>
<polyline class="dl" points="797,4677 847,4677 950,4677 1001,4677"/>
<text class="n" x="892" y="4755" style="font-size:44px">70</text>
<polyline class="dl" points="797,4764 1001,4764"/>
<path class="f" d="M797 4600V4790M1001 4600V4790M847 4600V4680M950 4600V4680"/>

<!-- ============== SECTION 1-1 ; 2-2 ============== -->
<text x="2264" y="3170" font-size="64" textLength="361">1-1 ; 2-2.</text>
<path class="l" style="stroke-width:7" d="M2249 3181H2634"/>
<text x="2643" y="3308" font-size="44" textLength="314">СВЕТИЛЬНИК</text>
<path class="l" d="M3096 3328H2619L2477 3582"/>
<path class="l" style="stroke-width:7" d="M1950 3420V4141M2911 3403V4162M1981 3425V3570M2887 3403V3577"/>
<path class="l" style="stroke-width:7" d="M1925 3480L1950 3450M1925 3570L1950 3535M1925 3660L1950 3625M1925 3750L1950 3715M1925 3840L1950 3780M2911 3470L2940 3440M2911 3560L2940 3530M2911 3650L2940 3610M2911 3730L2940 3690M2911 3820L2940 3780"/>
<path class="k" d="M2227 3544H2630M1959 3645H2208M2208 3653H2661M2671 3645H2902"/>
<path class="l" d="M2208 3653V3575H2227V3544M2661 3653V3575H2630V3544M1959 3577H2208M2671 3588H2902"/>
<path class="k" style="stroke-dasharray:40 30;stroke-width:6" d="M2215 3586H2655"/>
<path class="d" d="M2215 3642H2655"/>
<path class="l" style="stroke-width:7" d="M1959 3577H2018V3639H1959ZM2837 3595H2893V3639H2837Z"/>
<ellipse class="f" cx="1992" cy="3586" rx="90" ry="93" stroke-dasharray="14 8"/>
<ellipse class="l" cx="2893" cy="3620" rx="88" ry="92"/>
<g class="c"><ellipse cx="3142" cy="3433" rx="58" ry="60"/><text x="3142" y="3455">1</text>
<ellipse cx="1741" cy="3772" rx="58" ry="58"/><text x="1741" y="3794">1</text></g>
<path class="f" d="M3110 3485L2981 3593M1790 3745L1903 3647"/>
<text x="3220" y="3418" font-size="40" textLength="163">по типу</text>
<path class="l" d="M3207 3431H3383"/>
<text class="n" x="3268" y="3691" style="font-size:48px">5500</text>
<text class="n" x="3262" y="3750" style="font-size:48px">2200</text>
<path class="l" d="M3133 3699H3370M3133 3767H3370M3138 3644V3767M3044 3644H3216"/>
<!-- dims -->
<polyline class="dl" points="1950,3851 2199,3851 2665,3851 2911,3851"/>
<polyline class="dl" points="1950,3940 2199,3940 2665,3940 2911,3940"/>
<polyline class="dl" points="1950,4032 2911,4032"/>
<path class="l" d="M2911 3851H3211M2911 3940H3211M2911 4032H3211M2911 4135H3211M1950 4135H2911"/>
<path class="f" d="M2199 3580V3950M2665 3590V3950"/>
<g class="n">
<text x="2083" y="3839">270</text><text x="2399" y="3839">1260</text><text x="2778" y="3839">270</text>
<text x="2083" y="3926">120</text><text x="2399" y="3926">1260</text><text x="2785" y="3926">220</text>
<text x="2316" y="4018">1800</text><text x="2323" y="4119">1600</text>
</g>
<text x="2985" y="3839" font-size="44" textLength="222">ДЛЯ  1-1</text>
<text x="2976" y="3926" font-size="44" textLength="225">ДЛЯ  2-2</text>
<text x="2976" y="4021" font-size="44" textLength="231">ДЛЯ  1-1</text>
<text x="2985" y="4121" font-size="44" textLength="225">ДЛЯ  2-2</text>

<!-- ============== Т panels ============== -->
<!-- Т-1 -->
<text x="3734" y="3268" font-size="64" textLength="92">Т-1</text>
<path class="l" style="stroke-width:7" d="M3719 3282H3873"/>
<path class="l" style="stroke-width:7" d="M3632 3487H3987V3918H3632Z"/>
<text class="n" x="3475" y="3716" transform="rotate(-90 3475 3716)">1800</text>
<polyline class="dl" points="3494,3487 3494,3918"/>
<path class="f" d="M3494 3487H3600M3494 3918H3600M3632 3950V4040M3987 3950V4040"/>
<text class="n" x="3789" y="4005">1500</text>
<polyline class="dl" points="3632,4021 3990,4021"/>
<!-- Т-2 -->
<text x="4178" y="3263" font-size="64" textLength="111">Т-2</text>
<path class="l" style="stroke-width:7" d="M4155 3282H4316"/>
<path class="l" style="stroke-width:7" d="M4076 3485H4422V3918H4076Z"/>
<path class="l" style="stroke-width:7" d="M4215 3555H4292V3856H4215Z"/>
<path class="f" d="M4292 3560L4250 3585L4220 3850"/>
<text x="4131" y="3341" font-size="44" text-anchor="middle">585</text>
<text x="4248" y="3341" font-size="44" text-anchor="middle">330</text>
<polyline class="dl" points="4076,3355 4210,3355 4292,3355"/>
<path class="f" d="M4076 3355V3455M4210 3355V3440M4292 3355V3440M4420 3555H4520M4430 3856H4520"/>
<text x="4501" y="3431" font-size="44" text-anchor="middle" transform="rotate(-90 4501 3431)">270</text>
<text x="4506" y="3712" font-size="50" text-anchor="middle" transform="rotate(-90 4506 3712)">1260</text>
<polyline class="dl" points="4520,3485 4520,3555 4520,3856"/>
<text class="n" x="4236" y="4005">1500</text>
<polyline class="dl" points="4072,4024 4422,4024"/>
<path class="f" d="M4076 3950V4040M4422 3950V4040"/>
<!-- Т-3 -->
<text x="3734" y="4108" font-size="64" textLength="102">Т-3</text>
<path class="l" style="stroke-width:7" d="M3719 4124H3860"/>
<path class="l" style="stroke-width:7" d="M3623 4165H3984V4536H3623Z"/>
<text class="n" x="3475" y="4339" transform="rotate(-90 3475 4339)">1600</text>
<polyline class="dl" points="3490,4165 3490,4536"/>
<path class="f" d="M3490 4165H3560M3490 4536H3590M3623 4565V4650M3984 4565V4650"/>
<text class="n" x="3812" y="4623">1500</text>
<polyline class="dl" points="3616,4639 3990,4639"/>
<!-- Т-4 -->
<text x="4178" y="4108" font-size="64" textLength="120">Т-4</text>
<path class="l" style="stroke-width:7" d="M4163 4124H4340"/>
<path class="l" style="stroke-width:7" d="M4072 4165H4422V4536H4072Z"/>
<path class="l" style="stroke-width:7" d="M4196 4195H4270V4507H4196Z"/>
<text x="4128" y="4368" font-size="44" text-anchor="middle">585</text>
<text x="4329" y="4368" font-size="44" text-anchor="middle">330</text>
<polyline class="dl" points="4072,4385 4196,4385 4270,4385"/>
<path class="f" d="M4270 4385H4305M4330 4195H4420M4370 4507H4460"/>
<text x="4504" y="4097" font-size="44" text-anchor="middle" transform="rotate(-90 4504 4097)">220</text>
<text x="4504" y="4368" font-size="50" text-anchor="middle" transform="rotate(-90 4504 4368)">1260</text>
<text x="4504" y="4574" font-size="44" text-anchor="middle" transform="rotate(-90 4504 4574)">120</text>
<polyline class="dl" points="4520,4165 4520,4195 4520,4507 4520,4536"/>
<path class="f" d="M4520 4056V4165M4520 4536V4612"/>
<text class="n" x="4233" y="4623">1500</text>
<polyline class="dl" points="4065,4639 4422,4639"/>
<path class="f" d="M4065 4565V4660M4422 4565V4650"/>
<!-- Т-5 -->
<text x="3016" y="4217" font-size="64" textLength="108">Т-5</text>
<path class="l" style="stroke-width:7" d="M3000 4233H3129"/>
<path class="l" style="stroke-width:7" d="M2906 4269H3244V4529H2906Z"/>
<text class="n" x="2753" y="4408" transform="rotate(-90 2753 4408)">1080</text>
<polyline class="dl" points="2769,4269 2769,4529"/>
<path class="f" d="M2769 4265H2840M2769 4528H2830M2906 4555V4660M3244 4555V4660"/>
<text class="n" x="3063" y="4628">1500</text>
<polyline class="dl" points="2898,4648 3246,4648"/>

<!-- ============== TITLE BLOCK ============== -->
<path style="fill:none;stroke:#000;stroke-width:10" d="M4649 4208H6854V4863H4649ZM5431 4208V4863M5431 4386H6854M5431 4505H6854M5431 4680H6854M6261 4505V4863M6261 4561H6854"/>
<path style="fill:none;stroke:#000;stroke-width:8" d="M4649 4269H5431M4649 4333H5431M4649 4393H5431M4649 4452H5431M4649 4511H5431M4649 4570H5431M4649 4627H5431M4649 4687H5431M4649 4748H5431M4649 4807H5431M4749 4208V4511M4856 4208V4863M5128 4208V4863M5307 4208V4863M6437 4505V4680M6675 4505V4680"/>
<text x="5641" y="4333" font-size="88" textLength="957" style="stroke-width:3">ТП  902 - 9 - 6  -  АР</text>
<text x="5480" y="4436" font-size="42" textLength="1335">БЛОК ПРОИЗВОДСТВЕННЫХ И БЫТОВЫХ ПОМЕЩЕНИЙ</text>
<text x="5480" y="4486" font-size="40" textLength="1256">ДЛЯ СТАНЦИИ Q = от 40 тыс. до 100 тыс. м³/сут.</text>
<g class="m">
<text x="6270" y="4547" textLength="100" style="font-size:32px">лит.</text>
<text x="6506" y="4547" textLength="100" style="font-size:32px">лист</text>
<text x="6685" y="4547" textLength="147" style="font-size:30px">листов</text>
</g>
<text x="6327" y="4633" font-size="58" text-anchor="middle" style="font-family:'Liberation Serif',serif;font-weight:bold">Р</text>
<text x="6560" y="4633" font-size="58" text-anchor="middle" style="font-family:'Liberation Serif',serif;font-weight:bold">I2</text>
<text x="5514" y="4738" font-size="46" textLength="617" style="font-family:'Liberation Serif',serif;font-weight:bold">Подвесной потолок на</text>
<text x="5514" y="4813" font-size="46" textLength="525" style="font-family:'Liberation Serif',serif;font-weight:bold">отм.2.200 , 5.500</text>
<text x="6361" y="4730" font-size="42" textLength="398">ГОССТРОЙ СССР</text>
<text x="6304" y="4794" font-size="58" textLength="516" style="font-weight:bold">ГОСХИМПРОЕКТ</text>
<text x="6437" y="4844" font-size="36" textLength="227" style="font-weight:bold">г. Москва</text>
<g class="m">
<text x="4657" y="4491" textLength="89" style="font-size:34px">Изм</text>
<text x="4753" y="4491" textLength="97" style="font-size:34px">Лист</text>
<text x="4899" y="4491" textLength="194" style="font-size:34px">№ докум.</text>
<text x="5130" y="4491" textLength="176" style="font-size:34px">Подпись</text>
<text x="5323" y="4491" textLength="101" style="font-size:34px">Дата</text>
<text x="4657" y="4563" textLength="162" style="font-size:38px">Ст.арх.</text>
<text x="4886" y="4563" textLength="234" style="font-size:36px">Кисельман</text>
<text x="4658" y="4619" textLength="172" style="font-size:38px">Рук.гр.</text>
<text x="4902" y="4622" textLength="153" style="font-size:36px">Лапина</text>
<text x="4657" y="4677" textLength="196" style="font-size:34px">Гл.арх.от</text>
<text x="4863" y="4673" textLength="262" style="font-size:34px">Вольфензон</text>
<text x="4658" y="4738" textLength="194" style="font-size:36px">Гл.конст</text>
<text x="4886" y="4738" textLength="188" style="font-size:36px">Семенов</text>
<text x="4661" y="4791" textLength="188" style="font-size:36px">Нач.отд.</text>
<text x="4891" y="4791" textLength="176" style="font-size:36px">Убарнев</text>
<text x="4664" y="4852" textLength="219" style="font-size:34px">Гл.инж.пр.</text>
<text x="4886" y="4850" textLength="204" style="font-size:36px">Киселева</text>
<text x="4661" y="4908" textLength="475" style="font-size:36px">Проверил  Овчаренко</text>
<text x="6564" y="4910" textLength="248" style="font-size:36px">Формат 22:</text>
</g>
<text x="5817" y="4927" font-size="70" textLength="459" font-style="italic" style="stroke-width:.5">13396-01 17</text>
<!-- signatures -->
<path class="f" d="M5170 4560L5185 4530M5205 4550Q5215 4530 5225 4535M5245 4560L5250 4530"/>
<path class="l" d="M5150 4620Q5180 4570 5180 4600Q5190 4615 5230 4600Q5260 4605 5275 4620"/>
<path class="f" d="M5170 4670L5240 4660L5255 4640M5210 4670H5290"/>
<path class="f" d="M5170 4720L5190 4710M5210 4730L5240 4705M5260 4720L5290 4715"/>
<path class="l" d="M5150 4790L5175 4760L5190 4790M5200 4790L5270 4755"/>
<path class="f" d="M5145 4850Q5170 4810 5180 4850T5220 4850T5260 4845T5300 4840"/>
<path class="l" d="M5165 4905Q5185 4860 5200 4900Q5215 4890 5240 4895M5250 4905H5310"/>
</svg>
</body></html>
